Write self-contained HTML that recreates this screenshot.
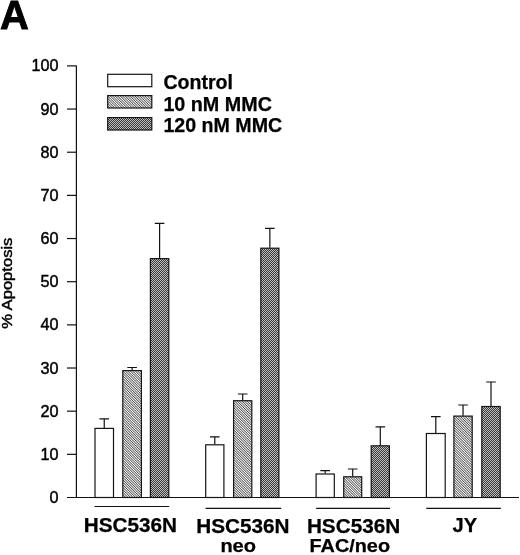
<!DOCTYPE html>
<html lang="en"><head><meta charset="utf-8"><title>Figure A</title>
<style>
html,body{margin:0;padding:0;background:#fff;}
svg{display:block;font-family:"Liberation Sans",sans-serif;fill:#000;filter:blur(0.35px);}
text{stroke:#000;stroke-width:0.45;}
.b{font-weight:bold;stroke-width:0.25;}
.ln{stroke:#111;stroke-width:1.2;fill:none;}
</style></head><body>
<svg width="520" height="555" viewBox="0 0 520 555">
<defs>
<pattern id="pl" width="1.75" height="1.75" patternUnits="userSpaceOnUse" patternTransform="rotate(45)">
<rect width="1.75" height="1.75" fill="#fff"/><rect width="1.75" height="0.8" fill="#484848"/>
</pattern>
<pattern id="pd" width="2" height="2" patternUnits="userSpaceOnUse">
<rect width="2" height="2" fill="#383838"/><rect x="0" y="0" width="1" height="1" fill="#bebebe"/><rect x="1" y="1" width="1" height="1" fill="#bebebe"/>
</pattern>
</defs>
<rect x="-5" y="-5" width="530" height="565" fill="#fff"/>
<text class="b" x="-0.1" y="29.0" font-size="41" textLength="28.8" lengthAdjust="spacingAndGlyphs" style="stroke-width:0.9">A</text>
<path class="ln" d="M76.4 65.40V497.5"/>
<path class="ln" d="M67 497.5H519"/>
<path class="ln" d="M67 454.34H76.4"/>
<path class="ln" d="M67 411.18H76.4"/>
<path class="ln" d="M67 368.02H76.4"/>
<path class="ln" d="M67 324.86H76.4"/>
<path class="ln" d="M67 281.70H76.4"/>
<path class="ln" d="M67 238.54H76.4"/>
<path class="ln" d="M67 195.38H76.4"/>
<path class="ln" d="M67 152.22H76.4"/>
<path class="ln" d="M67 109.06H76.4"/>
<path class="ln" d="M67 65.90H76.4"/>
<text x="49.6" y="503.00" font-size="16.0" textLength="9.0" lengthAdjust="spacingAndGlyphs">0</text>
<text x="40.6" y="459.84" font-size="16.0" textLength="18.0" lengthAdjust="spacingAndGlyphs">10</text>
<text x="40.6" y="416.68" font-size="16.0" textLength="18.0" lengthAdjust="spacingAndGlyphs">20</text>
<text x="40.6" y="373.52" font-size="16.0" textLength="18.0" lengthAdjust="spacingAndGlyphs">30</text>
<text x="40.6" y="330.36" font-size="16.0" textLength="18.0" lengthAdjust="spacingAndGlyphs">40</text>
<text x="40.6" y="287.20" font-size="16.0" textLength="18.0" lengthAdjust="spacingAndGlyphs">50</text>
<text x="40.6" y="244.04" font-size="16.0" textLength="18.0" lengthAdjust="spacingAndGlyphs">60</text>
<text x="40.6" y="200.88" font-size="16.0" textLength="18.0" lengthAdjust="spacingAndGlyphs">70</text>
<text x="40.6" y="157.72" font-size="16.0" textLength="18.0" lengthAdjust="spacingAndGlyphs">80</text>
<text x="40.6" y="114.56" font-size="16.0" textLength="18.0" lengthAdjust="spacingAndGlyphs">90</text>
<text x="31.6" y="71.40" font-size="16.0" textLength="27.0" lengthAdjust="spacingAndGlyphs">100</text>
<text transform="translate(12.0 328.8) rotate(-90)" font-size="15.2" textLength="91.2" lengthAdjust="spacingAndGlyphs">% Apoptosis</text>
<rect x="107.7" y="74.3" width="44.1" height="12.4" fill="#fff" stroke="#151515" stroke-width="1.2"/>
<text class="b" x="163.4" y="89.1" font-size="19.5" textLength="69.6" lengthAdjust="spacingAndGlyphs">Control</text>
<rect x="107.7" y="95.6" width="44.1" height="12.4" fill="url(#pl)" stroke="#151515" stroke-width="1.2"/>
<text class="b" x="163.4" y="110.5" font-size="19.5" textLength="108.5" lengthAdjust="spacingAndGlyphs">10 nM MMC</text>
<rect x="107.7" y="117.6" width="44.1" height="12.4" fill="url(#pd)" stroke="#151515" stroke-width="1.2"/>
<text class="b" x="163.4" y="131.6" font-size="19.5" textLength="118.8" lengthAdjust="spacingAndGlyphs">120 nM MMC</text>
<path class="ln" d="M104.25 428.0V418.9M99.45 418.9H109.05"/>
<rect x="95.00" y="428.40" width="18.50" height="69.10" fill="#fff" stroke="#151515" stroke-width="1.2"/>
<path class="ln" d="M132.10 370.2V367.5M127.30 367.5H136.90"/>
<rect x="122.80" y="370.60" width="18.60" height="126.90" fill="url(#pl)" stroke="#151515" stroke-width="1.2"/>
<path class="ln" d="M159.60 258.2V223.4M154.80 223.4H164.40"/>
<rect x="150.40" y="258.60" width="18.40" height="238.90" fill="url(#pd)" stroke="#151515" stroke-width="1.2"/>
<path class="ln" d="M214.80 444.4V436.9M210.00 436.9H219.60"/>
<rect x="205.70" y="444.80" width="18.20" height="52.70" fill="#fff" stroke="#151515" stroke-width="1.2"/>
<path class="ln" d="M242.70 400.3V394.0M237.90 394.0H247.50"/>
<rect x="233.60" y="400.70" width="18.20" height="96.80" fill="url(#pl)" stroke="#151515" stroke-width="1.2"/>
<path class="ln" d="M269.85 247.8V228.4M265.05 228.4H274.65"/>
<rect x="260.80" y="248.20" width="18.10" height="249.30" fill="url(#pd)" stroke="#151515" stroke-width="1.2"/>
<path class="ln" d="M325.20 473.6V470.7M320.40 470.7H330.00"/>
<rect x="316.10" y="474.00" width="18.20" height="23.50" fill="#fff" stroke="#151515" stroke-width="1.2"/>
<path class="ln" d="M352.70 476.4V469.0M347.90 469.0H357.50"/>
<rect x="343.70" y="476.80" width="18.00" height="20.70" fill="url(#pl)" stroke="#151515" stroke-width="1.2"/>
<path class="ln" d="M380.30 445.4V426.8M375.50 426.8H385.10"/>
<rect x="371.20" y="445.80" width="18.20" height="51.70" fill="url(#pd)" stroke="#151515" stroke-width="1.2"/>
<path class="ln" d="M435.80 433.1V416.6M431.00 416.6H440.60"/>
<rect x="426.40" y="433.50" width="18.80" height="64.00" fill="#fff" stroke="#151515" stroke-width="1.2"/>
<path class="ln" d="M463.05 415.7V405.0M458.25 405.0H467.85"/>
<rect x="453.90" y="416.10" width="18.30" height="81.40" fill="url(#pl)" stroke="#151515" stroke-width="1.2"/>
<path class="ln" d="M491.00 406.1V382.0M486.20 382.0H495.80"/>
<rect x="481.80" y="406.50" width="18.40" height="91.00" fill="url(#pd)" stroke="#151515" stroke-width="1.2"/>
<path class="ln" d="M94.4 506.5H169.2"/>
<path class="ln" d="M205.6 508.4H281.2"/>
<path class="ln" d="M316.2 508.4H390.0"/>
<path class="ln" d="M426.3 508.4H500.8"/>
<text class="b" x="83.8" y="532.2" font-size="19.6" textLength="93.3" lengthAdjust="spacingAndGlyphs">HSC536N</text>
<text class="b" x="196.2" y="532.6" font-size="19.6" textLength="93.3" lengthAdjust="spacingAndGlyphs">HSC536N</text>
<text class="b" x="220.4" y="551.8" font-size="18.2" textLength="35.6" lengthAdjust="spacingAndGlyphs">neo</text>
<text class="b" x="306.9" y="532.6" font-size="19.6" textLength="93.3" lengthAdjust="spacingAndGlyphs">HSC536N</text>
<text class="b" x="309.6" y="551.6" font-size="18.2" textLength="80.4" lengthAdjust="spacingAndGlyphs">FAC/neo</text>
<text class="b" x="452.6" y="532.1" font-size="19.6" textLength="24.6" lengthAdjust="spacingAndGlyphs">JY</text>
</svg>
</body></html>
